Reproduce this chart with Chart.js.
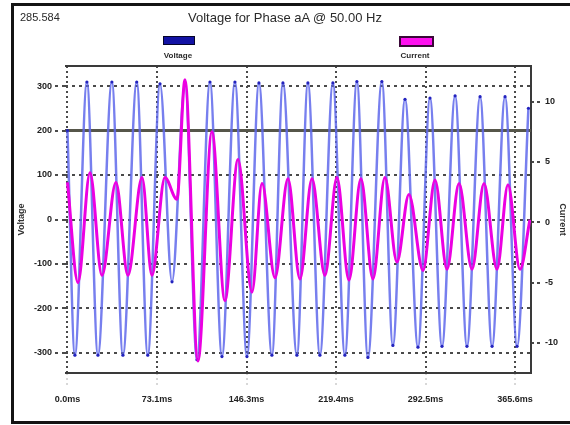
<!DOCTYPE html>
<html>

<head>
    <title>Voltage for Phase aA</title>
    <!-- Chart JS -->
    <script src="https://cdn.jsdelivr.net/npm/chart.js@4.4.1/dist/chart.umd.min.js"></script>
    <style>
        body { margin: 0; background: #fff; }
        #wrap { position: relative; width: 570px; height: 425px; overflow: hidden; }
        #frame { position: absolute; left: 11px; top: 3px; width: 580px; height: 415px; border: 3px solid #141414; }
        #myChart { position: absolute; left: 0; top: 0; }
        .txt { position: absolute; font-family: "Liberation Sans Narrow", "Liberation Sans", Arial, sans-serif; color: #2a2a2a; white-space: nowrap; }
        .box { position: absolute; }
    </style>
</head>

<body>
    <div id="wrap">
        <div id="frame"></div>
        <canvas id="myChart" width="570" height="425"></canvas>
        <div class="txt" style="left:20px; top:11px; font-size:11px;">285.584</div>
        <div class="txt" style="left:0; width:570px; text-align:center; top:10px; font-size:13px;">Voltage for Phase aA @ 50.00 Hz</div>
        <div class="box" style="left:163px; top:36px; width:30px; height:7px; background:#1212a4; border:1px solid #05052a;"></div>
        <div class="txt" style="left:158px; width:40px; text-align:center; top:51px; font-size:8px; font-weight:bold;">Voltage</div>
        <div class="box" style="left:399px; top:36px; width:31px; height:7px; background:#ff10f0; border:2px solid #3a0838;"></div>
        <div class="txt" style="left:395px; width:40px; text-align:center; top:51px; font-size:8px; font-weight:bold;">Current</div>
    </div>
    <script>

        var FONT = '"Liberation Sans Narrow", "Liberation Sans", Arial, sans-serif';

        // time axis (ms)
        var xMin = -2;
        var xMax = 378.6;
        var xTickValues = [0.0, 73.1, 146.3, 219.4, 292.5, 365.6];

        // voltage axis
        var voltTicks = [-300, -200, -100, 0, 100, 200, 300];
        var limitLevel = 200;

        // current axis
        var currTicks = [-10, -5, 0, 5, 10];

        // voltage: peaks / troughs
        var voltTimes = [0, 6.1, 15.9, 24.9, 36.3, 45.3, 56.6, 65.6, 75.6, 85.4, 96.0, 105.8, 116.4, 126.2, 136.8, 146.6,
            156.4, 167.0, 176.0, 187.4, 196.4, 206.2, 216.8, 226.6, 236.4, 245.4, 256.8, 265.8, 275.7, 286.3, 296.1,
            305.9, 316.6, 326.3, 337.0, 346.8, 357.4, 367.2, 376.5];
        var voltValues = [200, -305, 309, -305, 309, -305, 309, -305, 305, -140, 305, -315, 309, -308, 309, -308,
            307, -305, 307, -305, 307, -305, 307, -305, 310, -310, 310, -283, 270, -287, 273,
            -285, 278, -285, 276, -285, 276, -285, 250];

        // current
        var currTimes = [0, 8.6, 18.4, 28.2, 39.6, 49.4, 60.9, 69.0, 79.6, 89.4, 96.0, 106.6, 118.0, 128.6, 139.3, 150.7,
            158.9, 169.5, 180.1, 189.9, 199.7, 210.3, 220.1, 229.9, 239.7, 249.5, 259.3, 269.1, 278.9, 290.4, 300.2,
            310.0, 319.8, 330.4, 340.2, 350.8, 359.8, 369.6, 377.7];
        var currValues = [3.3, -5.0, 4.1, -4.4, 3.3, -4.4, 3.7, -4.4, 3.7, 1.9, 11.8, -11.5, 7.5, -6.5, 5.2, -5.8,
            3.2, -4.6, 3.6, -4.7, 3.6, -4.4, 3.7, -4.8, 3.6, -4.7, 3.7, -3.3, 2.3, -4.0, 3.5,
            -3.9, 3.2, -3.9, 3.2, -3.9, 3.1, -3.9, 0.2];

        function toPoints(xs, ys) {
            var pts = [];
            for (var i = 0; i < xs.length; i++) {
                pts.push({ x: xs[i], y: ys[i] });
            }
            return pts;
        }

        // solid top / right / bottom edge of the plot
        var plotFrame = {
            id: 'plotFrame',
            beforeDatasetsDraw: function (chart) {
                var ctx = chart.ctx, a = chart.chartArea;
                ctx.save();
                ctx.strokeStyle = '#3a3a3a';
                ctx.lineWidth = 2;
                ctx.beginPath();
                ctx.moveTo(a.left, a.top);
                ctx.lineTo(a.right, a.top);
                ctx.lineTo(a.right, a.bottom);
                ctx.lineTo(a.left, a.bottom);
                ctx.stroke();
                ctx.restore();
            }
        };

        var tickFont = { family: FONT, size: 9, weight: 'bold' };

        var ctx = document.getElementById('myChart').getContext('2d');
        var chart = new Chart(ctx, {
            type: 'line',
            data: {
                datasets: [{
                    label: 'Current',
                    data: toPoints(currTimes, currValues),
                    yAxisID: 'y1',
                    borderColor: 'rgb(236, 0, 226)',
                    borderWidth: 3,
                    pointRadius: 0,
                    cubicInterpolationMode: 'monotone',
                    order: 0
                }, {
                    label: 'Voltage',
                    data: toPoints(voltTimes, voltValues),
                    yAxisID: 'y',
                    borderColor: 'rgba(95, 105, 235, 0.85)',
                    borderWidth: 2.5,
                    pointRadius: 1.6,
                    pointBorderWidth: 0,
                    pointBackgroundColor: 'rgb(35, 35, 190)',
                    cubicInterpolationMode: 'monotone',
                    order: 1
                }, {
                    label: 'Limit',
                    data: [{ x: xMin, y: limitLevel }, { x: xMax, y: limitLevel }],
                    yAxisID: 'y',
                    borderColor: '#56564a',
                    borderWidth: 3,
                    pointRadius: 0,
                    order: 2
                }]
            },
            options: {
                responsive: false,
                animation: false,
                layout: { padding: { top: 66, left: 0, right: 0, bottom: 0 } },
                plugins: {
                    legend: { display: false },
                    tooltip: { enabled: false }
                },
                scales: {
                    x: {
                        type: 'linear',
                        min: xMin,
                        max: xMax,
                        afterBuildTicks: function (scale) {
                            scale.ticks = xTickValues.map(function (v) { return { value: v }; });
                        },
                        afterFit: function (scale) { scale.height = 52; },
                        ticks: {
                            font: tickFont,
                            color: '#222',
                            maxRotation: 0,
                            padding: 7,
                            callback: function (v) { return (+v).toFixed(1) + 'ms'; }
                        },
                        grid: {
                            color: '#4a4a4a',
                            lineWidth: 2,
                            tickLength: 14,
                            tickColor: '#b0b0b0',
                            tickWidth: 1,
                            tickBorderDash: [2, 3]
                        },
                        border: { display: false, dash: [2, 3] }
                    },
                    y: {
                        position: 'left',
                        min: -345,
                        max: 345,
                        afterBuildTicks: function (scale) {
                            scale.ticks = voltTicks.map(function (v) { return { value: v }; });
                        },
                        afterFit: function (scale) { scale.width = 65; },
                        title: {
                            display: true,
                            text: 'Voltage',
                            font: { family: FONT, size: 9, weight: 'bold' },
                            color: '#333',
                            padding: { top: 16, bottom: 0 }
                        },
                        ticks: { font: tickFont, color: '#222', padding: 3 },
                        grid: {
                            color: '#4a4a4a',
                            lineWidth: 2,
                            tickLength: 10,
                            tickBorderDash: [3, 4]
                        },
                        border: { display: false, dash: [3, 4] }
                    },
                    y1: {
                        position: 'right',
                        min: -12.5,
                        max: 12.95,
                        afterBuildTicks: function (scale) {
                            scale.ticks = currTicks.map(function (v) { return { value: v }; });
                        },
                        afterFit: function (scale) { scale.width = 39; },
                        title: {
                            display: true,
                            text: 'Current',
                            font: { family: FONT, size: 9, weight: 'bold' },
                            color: '#333',
                            padding: { top: 2, bottom: 0 }
                        },
                        ticks: { font: tickFont, color: '#222', padding: 3 },
                        grid: {
                            drawOnChartArea: false,
                            color: '#4a4a4a',
                            lineWidth: 2,
                            tickLength: 11,
                            tickBorderDash: [3, 3]
                        },
                        border: { display: false }
                    }
                }
            },
            plugins: [plotFrame]
        });
    </script>

</body>

</html>
